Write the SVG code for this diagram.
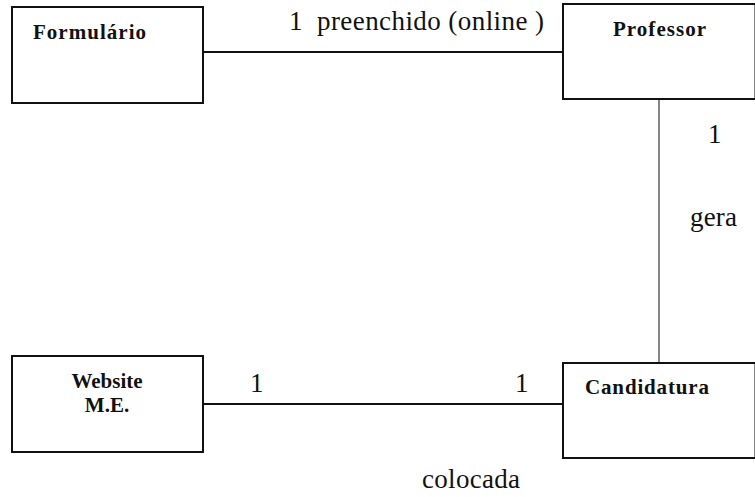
<svg xmlns="http://www.w3.org/2000/svg" width="755" height="497" viewBox="0 0 755 497">
  <style>
    .box { fill: #ffffff; stroke: #111111; stroke-width: 2; }
    .title { font-family: "Liberation Serif", "Times New Roman", Times, serif; font-weight: bold; font-size: 21px; fill: #111111; }
    .label { font-family: "Liberation Serif", "Times New Roman", Times, serif; font-weight: normal; font-style: normal; font-size: 27px; fill: #111111; }
    .link { stroke: #111111; stroke-width: 2; fill: none; }
    .link-thin { stroke: #333333; stroke-width: 1.2; fill: none; }
  </style>
  <rect width="755" height="497" fill="#ffffff"/>

  <!-- connectors and their labels -->
  <g id="connectors">
    <line class="link" x1="203" y1="52" x2="563" y2="52"/>
    <line class="link" x1="203" y1="404" x2="563" y2="404"/>
    <line class="link-thin" x1="659" y1="99" x2="659" y2="364"/>
    <text class="label" x="289" y="30">1</text>
    <text class="label" x="317" y="30" textLength="227">preenchido (online )</text>
    <text class="label" x="708" y="143">1</text>
    <text class="label" x="690" y="226" textLength="47">gera</text>
    <text class="label" x="250" y="392">1</text>
    <text class="label" x="515" y="392">1</text>
    <text class="label" x="422" y="488" textLength="98">colocada</text>
  </g>

  <g id="formulario">
    <rect class="box" x="12" y="7" width="191" height="96"/>
    <text class="title" x="33" y="39" textLength="113">Formulário</text>
  </g>

  <g id="professor">
    <rect class="box" x="563" y="4" width="192.5" height="95"/>
    <text class="title" x="613" y="36" textLength="93">Professor</text>
  </g>

  <g id="website">
    <rect class="box" x="12" y="356" width="191" height="96"/>
    <text class="title" x="107" y="388" text-anchor="middle">Website</text>
    <text class="title" x="107" y="412" text-anchor="middle">M.E.</text>
  </g>

  <g id="candidatura">
    <rect class="box" x="563" y="363" width="192.5" height="95"/>
    <text class="title" x="585" y="394" textLength="124">Candidatura</text>
  </g>
</svg>
